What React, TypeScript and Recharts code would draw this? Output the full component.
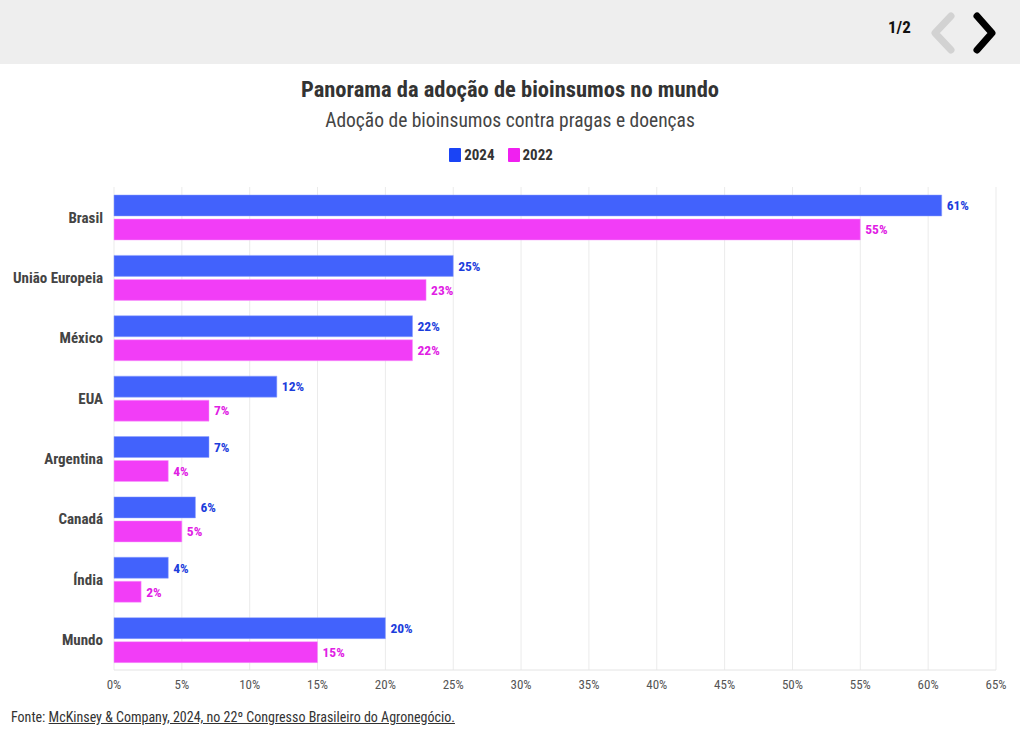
import React from 'react';
import { BarChart, Bar, XAxis, YAxis, CartesianGrid, LabelList } from 'recharts';

const categories = ['Brasil', 'União Europeia', 'México', 'EUA', 'Argentina', 'Canadá', 'Índia', 'Mundo'];
const values2024 = [61, 25, 22, 12, 7, 6, 4, 20];
const values2022 = [55, 23, 22, 7, 4, 5, 2, 15];
const xTicks = [0, 5, 10, 15, 20, 25, 30, 35, 40, 45, 50, 55, 60, 65];

const FONT = '"Roboto Condensed", "Liberation Sans Narrow", "DejaVu Sans Condensed", Roboto, sans-serif';
const BLUE = '#4262fc';
const BLUE_TEXT = '#1c3ddc';
const PINK = '#f23df7';
const PINK_TEXT = '#e020e4';

const data = categories.map((name, i) => ({
  name,
  y2024: values2024[i],
  y2022: values2022[i],
}));

const pct = (v: any) => `${v}%`;

export default function App() {
  return (
    <div style={{ position: 'fixed', left: 0, top: 0, width: 1020, height: 736, background: '#fff', fontFamily: FONT, overflow: 'hidden' }}>
      {/* top bar */}
      <div style={{ position: 'absolute', left: 0, top: 0, width: 1020, height: 64, background: '#eeeeee' }}>
        <div style={{ position: 'absolute', left: 888, top: 17, fontSize: 17, fontWeight: 700, color: '#111' }}>1/2</div>
        <svg style={{ position: 'absolute', left: 926, top: 11 }} width={80} height={44}>
          <path d="M 25 5 L 9 22 L 25 39" fill="none" stroke="#d2d2d2" strokeWidth={7} strokeLinecap="round" strokeLinejoin="round" />
          <path d="M 51 5 L 66 22 L 51 39" fill="none" stroke="#000" strokeWidth={7} strokeLinecap="round" strokeLinejoin="round" />
        </svg>
      </div>

      <div style={{ position: 'absolute', top: 76, width: 1020, textAlign: 'center', fontSize: 22.5, fontWeight: 700, color: '#333' }}>
        Panorama da adoção de bioinsumos no mundo
      </div>
      <div style={{ position: 'absolute', top: 109, width: 1020, textAlign: 'center', fontSize: 19.5, color: '#444' }}>
        Adoção de bioinsumos contra pragas e doenças
      </div>

      {/* legend */}
      <div style={{ position: 'absolute', top: 146, left: 0, width: 1002, display: 'flex', justifyContent: 'center', gap: 13, fontSize: 15, fontWeight: 700, color: '#333' }}>
        {[{ c: '#1a44f5', t: '2024' }, { c: '#f020f0', t: '2022' }].map((l) => (
          <span key={l.t} style={{ display: 'flex', alignItems: 'center', gap: 3 }}>
            <span style={{ display: 'inline-block', width: 12, height: 14, background: l.c, borderRadius: 1 }} />
            {l.t}
          </span>
        ))}
      </div>

      <div style={{ position: 'absolute', left: 0, top: 0 }}>
        <BarChart
          width={1020}
          height={736}
          data={data}
          layout="vertical"
          margin={{ top: 187, right: 24, bottom: 36, left: 0 }}
          barSize={21}
          barGap={3}
        >
          <CartesianGrid horizontal={false} stroke="#ebebeb" />
          <XAxis
            type="number"
            domain={[0, 65]}
            ticks={xTicks}
            tickFormatter={pct}
            axisLine={{ stroke: '#e4e4e4' }}
            tickLine={false}
            tick={{ fill: '#555', fontSize: 13, fontFamily: FONT }}
            tickMargin={4}
            height={30}
            interval={0}
          />
          <YAxis
            type="category"
            dataKey="name"
            width={114}
            axisLine={false}
            tickLine={false}
            tickMargin={5}
            tick={{ fill: '#444', fontSize: 15, fontWeight: 700, fontFamily: FONT }}
          />
          <Bar dataKey="y2024" fill={BLUE} stroke="#8ea0ff" strokeWidth={0.5} isAnimationActive={false}>
            <LabelList dataKey="y2024" position="right" offset={5} formatter={pct} fill={BLUE_TEXT} fontSize={13.5} fontWeight={700} fontFamily={FONT} />
          </Bar>
          <Bar dataKey="y2022" fill={PINK} stroke="#f79cfb" strokeWidth={0.5} isAnimationActive={false}>
            <LabelList dataKey="y2022" position="right" offset={5} formatter={pct} fill={PINK_TEXT} fontSize={13.5} fontWeight={700} fontFamily={FONT} />
          </Bar>
        </BarChart>
      </div>

      <div style={{ position: 'absolute', left: 11, top: 709, fontSize: 14, color: '#333' }}>
        Fonte: <span style={{ textDecoration: 'underline' }}>McKinsey &amp; Company, 2024, no 22º Congresso Brasileiro do Agronegócio.</span>
      </div>
    </div>
  );
}
